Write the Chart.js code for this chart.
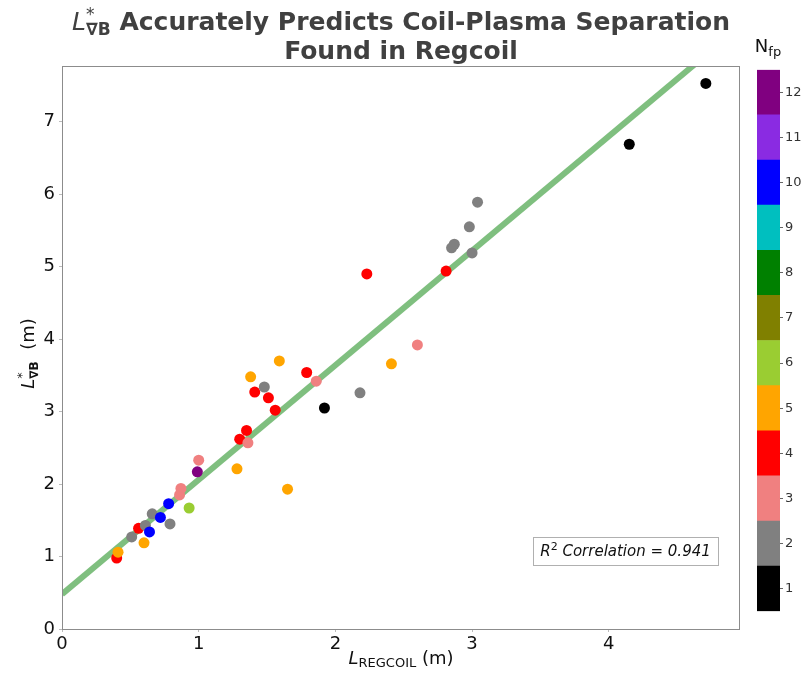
<!DOCTYPE html>
<html>
<head>
<meta charset="utf-8">
<script src="https://cdn.jsdelivr.net/npm/chart.js@4.4.1/dist/chart.umd.min.js"></script>
<style>
  body { margin: 0; background: #fff; }
  #wrap { position: relative; width: 804px; height: 674px; }
  #cb { position: absolute; left: 757px; top: 60px; }
</style>
</head>
<body>
<div id="wrap">
  <canvas id="main" width="804" height="674"></canvas>
  <canvas id="cb" width="47" height="561"></canvas>
</div>
<script>
// values
const xRegcoil = [0.40, 0.41, 0.51, 0.56, 0.60, 0.61, 0.64, 0.66, 0.72, 0.78, 0.79, 0.86, 0.87, 0.93,
  0.99, 1.00, 1.28, 1.30, 1.35, 1.36, 1.38, 1.41, 1.48, 1.51, 1.56, 1.59, 1.65, 1.79, 1.86, 1.92,
  2.18, 2.23, 2.41, 2.60, 2.81, 2.85, 2.87, 2.98, 3.00, 3.04, 4.15, 4.71];
const yLgradB = [0.98, 1.06, 1.27, 1.39, 1.19, 1.43, 1.34, 1.59, 1.54, 1.73, 1.45, 1.85, 1.94, 1.67,
  2.17, 2.33, 2.21, 2.62, 2.74, 2.57, 3.48, 3.27, 3.34, 3.19, 3.02, 3.70, 1.93, 3.54, 3.42, 3.05,
  3.26, 4.90, 3.66, 3.92, 4.94, 5.26, 5.31, 5.55, 5.19, 5.89, 6.69, 7.53];
const nfp = [4, 5, 2, 4, 5, 2, 10, 2, 10, 10, 2, 3, 3, 6,
  12, 3, 5, 4, 4, 3, 5, 4, 2, 4, 4, 5, 5, 4, 3, 1,
  2, 4, 5, 3, 4, 2, 2, 2, 2, 2, 1, 1];

const nfpLevels = [1, 2, 3, 4, 5, 6, 7, 8, 9, 10, 11, 12];
const nfpColors = ["#000000", "#808080", "#f08080", "#ff0000", "#ffa500", "#9acd32",
  "#808000", "#008000", "#00bfbf", "#0000ff", "#8a2be2", "#800080"];

const fitSlope = 1.58;
const fitIntercept = 0.48;
const r2 = 0.941;

const FONT = "DejaVu Sans";

const points = xRegcoil.map((x, i) => ({ x: x, y: yLgradB[i] }));
const pointColors = nfp.map(n => nfpColors[nfpLevels.indexOf(n)]);
const fitLine = [0, 5].map(x => ({ x: x, y: fitIntercept + fitSlope * x }));

// small helper for text with sub/superscripts
function partWidth(ctx, p) {
  if (p.stack) return Math.max(...p.stack.map(q => partWidth(ctx, q)));
  ctx.font = p.f;
  return ctx.measureText(p.t).width;
}
function drawRich(ctx, parts, x, y, color) {
  const w = parts.reduce((s, p) => s + partWidth(ctx, p), 0);
  let cx = x - w / 2;
  ctx.fillStyle = color;
  ctx.textBaseline = "alphabetic";
  ctx.textAlign = "left";
  parts.forEach(p => {
    const items = p.stack ? p.stack : [p];
    items.forEach(q => {
      ctx.font = q.f;
      ctx.fillText(q.t, cx, y + (q.dy || 0));
    });
    cx += partWidth(ctx, p);
  });
}

const decor = {
  id: "decor",
  afterDraw(chart) {
    const ctx = chart.ctx;
    const a = chart.chartArea;
    ctx.save();

    // frame
    ctx.strokeStyle = "#8c8c8c";
    ctx.lineWidth = 1;
    ctx.strokeRect(a.left + 0.5, a.top + 0.5, a.right - a.left - 1, a.bottom - a.top);

    // title
    const titleColor = "#404040";
    drawRich(ctx, [
      { t: "L", f: "italic 25px " + FONT },
      { stack: [{ t: "*", f: "17px " + FONT, dy: -10 }, { t: "\u2207B", f: "bold 17px " + FONT, dy: 5 }] },
      { t: " Accurately Predicts Coil-Plasma Separation", f: "bold 25px " + FONT }
    ], 401, 30, titleColor);
    drawRich(ctx, [{ t: "Found in Regcoil", f: "bold 25px " + FONT }], 401, 59, titleColor);

    // x label
    drawRich(ctx, [
      { t: "L", f: "italic 18px " + FONT },
      { t: "REGCOIL", f: "13px " + FONT, dy: 3 },
      { t: " (m)", f: "18px " + FONT }
    ], (a.left + a.right) / 2, 664, "#111");

    // y label
    ctx.save();
    ctx.translate(34, (a.top + a.bottom) / 2 + 6);
    ctx.rotate(-Math.PI / 2);
    drawRich(ctx, [
      { t: "L", f: "italic 18px " + FONT },
      { stack: [{ t: "*", f: "13px " + FONT, dy: -8 }, { t: "\u2207B", f: "bold 12px " + FONT, dy: 4 }] },
      { t: "  (m)", f: "18px " + FONT }
    ], 0, 0, "#111");
    ctx.restore();

    // colorbar label
    drawRich(ctx, [
      { t: "N", f: "18px " + FONT },
      { t: "fp", f: "13px " + FONT, dy: 4 }
    ], 768, 52, "#111");

    // R^2 box
    const bx = 533, by = 537, bw = 185, bh = 28;
    ctx.fillStyle = "#fff";
    ctx.fillRect(bx, by, bw, bh);
    ctx.strokeStyle = "#b0b0b0";
    ctx.strokeRect(bx + 0.5, by + 0.5, bw, bh);
    drawRich(ctx, [
      { t: "R", f: "italic 15px " + FONT },
      { t: "2", f: "11px " + FONT, dy: -6 },
      { t: " Correlation = " + r2.toFixed(3), f: "italic 15px " + FONT }
    ], bx + bw / 2, by + 19, "#111");

    ctx.restore();
  }
};

new Chart(document.getElementById("main"), {
  type: "scatter",
  data: {
    datasets: [
      {
        data: fitLine,
        showLine: true,
        borderColor: "rgba(0,128,0,0.5)",
        borderWidth: 6,
        pointRadius: 0,
        clip: 0,
        order: 2
      },
      {
        data: points,
        pointRadius: 5.5,
        pointBorderWidth: 0,
        pointBackgroundColor: pointColors,
        order: 1
      }
    ]
  },
  options: {
    responsive: false,
    animation: false,
    layout: { padding: { top: 66, right: 64, left: 0, bottom: 0 } },
    plugins: { legend: { display: false }, tooltip: { enabled: false } },
    scales: {
      x: {
        type: "linear",
        min: 0,
        max: 4.96,
        ticks: { stepSize: 1, includeBounds: false, padding: 2, color: "#111", font: { family: FONT, size: 18 } },
        grid: { drawOnChartArea: false, tickLength: 3, color: "#bbb" },
        border: { display: false },
        afterFit: s => { s.height = 45; }
      },
      y: {
        type: "linear",
        min: 0,
        max: 7.77,
        ticks: { stepSize: 1, includeBounds: false, padding: 4, color: "#111", font: { family: FONT, size: 18 } },
        grid: { drawOnChartArea: false, tickLength: 3, color: "#bbb" },
        border: { display: false },
        afterFit: s => { s.width = 62; }
      }
    }
  },
  plugins: [decor]
});

// colorbar: one floating bar segment per Nfp level
new Chart(document.getElementById("cb"), {
  type: "bar",
  data: {
    labels: [""],
    datasets: nfpLevels.map((n, i) => ({
      data: [[n - 0.5, n + 0.5]],
      backgroundColor: nfpColors[i],
      barPercentage: 1,
      categoryPercentage: 1,
      borderWidth: 0
    }))
  },
  options: {
    responsive: false,
    animation: false,
    layout: { padding: { top: 8, bottom: 8, left: 0, right: 0 } },
    plugins: { legend: { display: false }, tooltip: { enabled: false } },
    scales: {
      x: { display: false, stacked: true },
      y: {
        position: "right",
        min: 0.5,
        max: 12.5,
        afterBuildTicks: s => { s.ticks = nfpLevels.map(n => ({ value: n })); },
        ticks: { padding: 2, color: "#333", font: { family: FONT, size: 13 } },
        grid: { drawOnChartArea: false, tickLength: 3, color: "#666" },
        border: { display: false },
        afterFit: s => { s.width = 24; }
      }
    }
  }
});
</script>
</body>
</html>
